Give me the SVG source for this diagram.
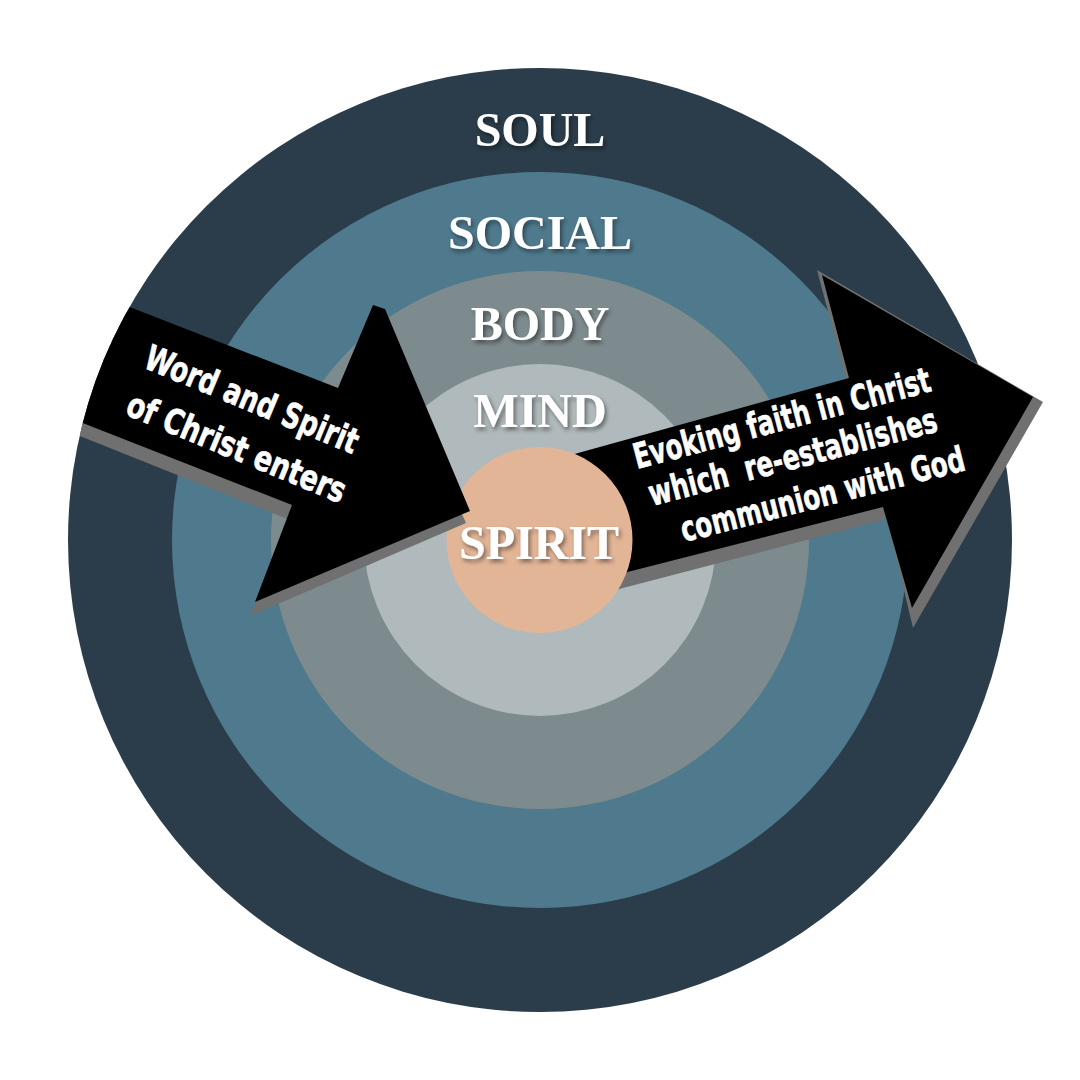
<svg xmlns="http://www.w3.org/2000/svg" width="1080" height="1080" viewBox="0 0 1080 1080">
  <defs>
    <style>
      .label { font-family: "Liberation Serif", "Times New Roman", serif; font-weight: bold; font-size: 48px; fill: #ffffff; text-anchor: middle; filter: url(#tshadow); }
      .atext { font-family: "DejaVu Sans Condensed", "DejaVu Sans", sans-serif; font-stretch: condensed; font-weight: bold; font-size: 35px; fill: #ffffff; stroke: #ffffff; stroke-width: 0.6px; }
      .arrow { fill: #000000; }
      .ashadow { fill: #707070; }
    </style>
    <filter id="tshadow" x="-20%" y="-30%" width="140%" height="170%">
      <feDropShadow dx="2" dy="3" stdDeviation="2" flood-color="#000000" flood-opacity="0.45"/>
    </filter>
    <clipPath id="outerClip">
      <circle cx="540" cy="540" r="472"/>
    </clipPath>
  </defs>
  <rect width="1080" height="1080" fill="#ffffff"/>

  <g id="ring-soul"><circle cx="540" cy="540" r="472" fill="#2B3D4A"/></g>
  <g id="ring-social"><circle cx="540" cy="540" r="368" fill="#4F798D"/></g>
  <g id="ring-body"><circle cx="540" cy="540" r="269" fill="#7E8B8E"/></g>
  <g id="ring-mind"><circle cx="540" cy="540" r="176" fill="#B0B9BB"/></g>

  <g id="connectors">
    <g id="arrow-out">
      <polygon class="ashadow" points="560,472 846,380 817,270 1043,402 913,628 887,519 600,594"/>
      <polygon class="arrow" points="560,458 849,378 822,275 1033,397 912,608 883,507 600,579"/>
    </g>
  </g>

  <g id="ring-spirit"><circle cx="539.5" cy="540" r="93" fill="#E3B597"/></g>

  <g id="arrow-in-group" clip-path="url(#outerClip)">
    <polygon class="ashadow" points="60,300 338,400 373,318 466,523 250,616 290,520 60,428"/>
    <polygon class="arrow" points="60,280 338,388 373,305 385,309 470,511 255,602 292,505 60,414"/>
  </g>

  <g id="labels">
    <text class="label" x="540" y="146">SOUL</text>
    <text class="label" x="540" y="249">SOCIAL</text>
    <text class="label" x="540" y="340">BODY</text>
    <text class="label" x="540" y="427">MIND</text>
    <text class="label" x="539" y="559">SPIRIT</text>
  </g>

  <g id="arrow-in-text">
    <text class="atext" transform="translate(142,367) rotate(22.5)" textLength="228" lengthAdjust="spacingAndGlyphs">Word and Spirit</text>
    <text class="atext" transform="translate(124,414) rotate(22.5)" textLength="234" lengthAdjust="spacingAndGlyphs">of Christ enters</text>
  </g>

  <g id="arrow-out-text">
    <text class="atext" transform="translate(637,469) rotate(-14.8)" textLength="306" lengthAdjust="spacingAndGlyphs">Evoking faith in Christ</text>
    <text class="atext" xml:space="preserve" transform="translate(652,506) rotate(-14.6)" textLength="297" lengthAdjust="spacingAndGlyphs">which  re-establishes</text>
    <text class="atext" transform="translate(684,542) rotate(-14.3)" textLength="292" lengthAdjust="spacingAndGlyphs">communion with God</text>
  </g>
</svg>
